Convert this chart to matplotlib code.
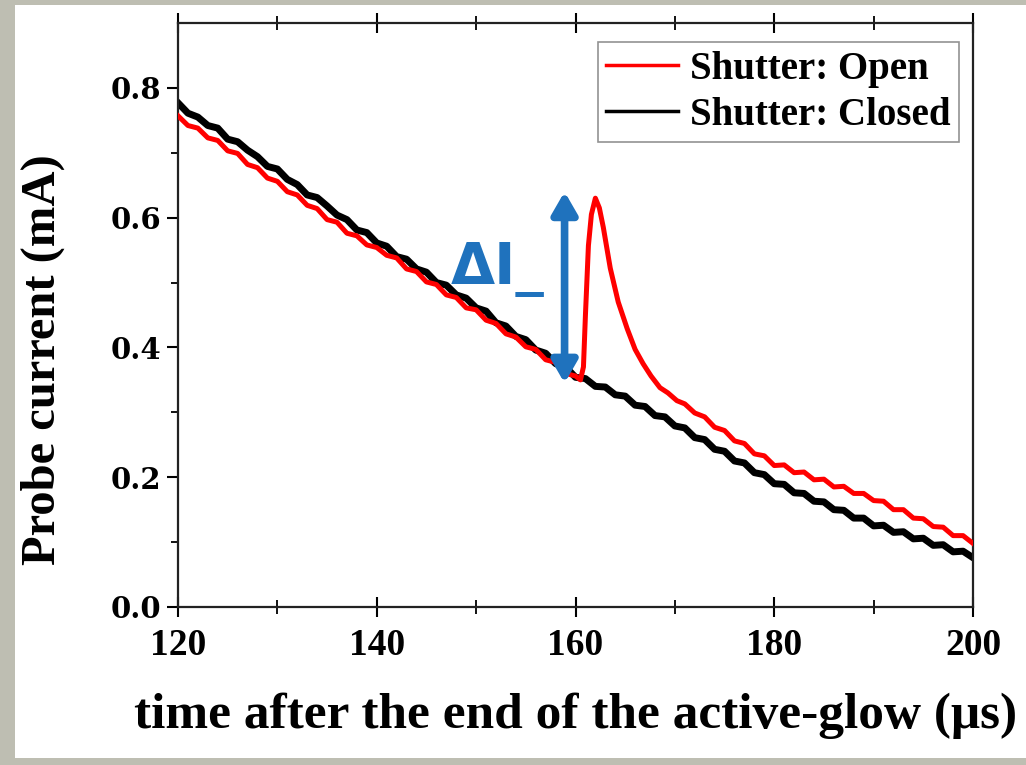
import matplotlib
matplotlib.use("Agg")
import matplotlib.pyplot as plt
from matplotlib.patches import Rectangle

# ---- data ----
time_closed = list(range(120, 201))
current_closed = [
    0.777, 0.761, 0.755, 0.742, 0.738, 0.721, 0.717, 0.704, 0.694, 0.679,
    0.675, 0.659, 0.651, 0.635, 0.631, 0.618, 0.604, 0.597, 0.581, 0.577,
    0.561, 0.556, 0.540, 0.536, 0.521, 0.516, 0.500, 0.496, 0.481, 0.476,
    0.461, 0.456, 0.438, 0.433, 0.417, 0.412, 0.396, 0.391, 0.375, 0.370,
    0.354, 0.352, 0.340, 0.339, 0.327, 0.325, 0.311, 0.309, 0.295, 0.293,
    0.279, 0.276, 0.261, 0.258, 0.243, 0.240, 0.225, 0.222, 0.207, 0.204,
    0.190, 0.189, 0.176, 0.175, 0.163, 0.162, 0.150, 0.149, 0.137, 0.137,
    0.125, 0.126, 0.115, 0.116, 0.105, 0.106, 0.095, 0.096, 0.085, 0.086,
    0.076,
]

time_open = [
    120, 121, 122, 123, 124, 125, 126, 127, 128, 129,
    130, 131, 132, 133, 134, 135, 136, 137, 138, 139,
    140, 141, 142, 143, 144, 145, 146, 147, 148, 149,
    150, 151, 152, 153, 154, 155, 156, 157, 158, 159,
    160, 160.5, 160.8, 161.0, 161.3, 161.6, 162.0, 162.4, 162.8, 163.5,
    164.3, 165.2, 166.0, 166.8, 167.6, 168.5, 169.3, 170.2, 171, 172,
    173, 174, 175, 176, 177, 178, 179, 180, 181, 182,
    183, 184, 185, 186, 187, 188, 189, 190, 191, 192,
    193, 194, 195, 196, 197, 198, 199, 200,
]
current_open = [
    0.757, 0.742, 0.738, 0.723, 0.719, 0.703, 0.699, 0.682, 0.677, 0.661,
    0.656, 0.640, 0.635, 0.619, 0.614, 0.597, 0.593, 0.576, 0.572, 0.558,
    0.554, 0.542, 0.538, 0.521, 0.517, 0.501, 0.497, 0.481, 0.477, 0.461,
    0.458, 0.442, 0.437, 0.421, 0.416, 0.401, 0.397, 0.381, 0.377, 0.360,
    0.356, 0.350, 0.370, 0.450, 0.557, 0.605, 0.630, 0.615, 0.585, 0.522,
    0.470, 0.429, 0.397, 0.375, 0.356, 0.338, 0.330, 0.318, 0.313, 0.299,
    0.293, 0.277, 0.272, 0.256, 0.252, 0.236, 0.233, 0.218, 0.219, 0.207,
    0.208, 0.196, 0.197, 0.185, 0.186, 0.175, 0.175, 0.164, 0.163, 0.150,
    0.150, 0.137, 0.136, 0.124, 0.123, 0.110, 0.110, 0.098,
]

legend_labels = ["Shutter: Open", "Shutter: Closed"]
x_ticks = [120, 140, 160, 180, 200]
y_ticks = [0.0, 0.2, 0.4, 0.6, 0.8]
arrow_time = 158.9
arrow_low, arrow_high = 0.345, 0.640

# ---- figure ----
W, H = 1026, 765
fig = plt.figure(figsize=(W / 100, H / 100), dpi=100, facecolor="#bebeb2")
fig.patches.append(Rectangle((15 / W, 7 / H), 1 - 15 / W, (758 - 5) / H,
                             transform=fig.transFigure, facecolor="white",
                             edgecolor="none", zorder=-10))

ax = fig.add_axes([178 / W, (H - 607) / H, (973 - 178) / W, (607 - 23) / H])
ax.set_facecolor("white")

ax.plot(time_open, current_open, color="#ff0000", lw=3.6, label=legend_labels[0],
        solid_joinstyle="round", zorder=3)
ax.plot(time_closed, current_closed, color="black", lw=5.0, label=legend_labels[1],
        solid_joinstyle="round", zorder=2)

ax.set_xlim(120, 200)
ax.set_ylim(0, 0.9)

ax.set_xticks(x_ticks)
ax.set_xticks(range(130, 200, 20), minor=True)
ax.set_yticks(y_ticks)
ax.set_yticks([0.1, 0.3, 0.5, 0.7], minor=True)
ax.set_yticklabels([f"{v:.1f}" for v in y_ticks],
                   fontfamily="DejaVu Serif", fontweight="bold", fontsize=21)
ax.set_xticklabels([str(v) for v in x_ticks],
                   fontfamily="Liberation Serif", fontweight="bold", fontsize=27)

for s in ax.spines.values():
    s.set_linewidth(1.6)
    s.set_color("#222222")

ax.tick_params(axis="y", which="major", direction="out", length=8, width=1.5,
               left=True, right=False, pad=4)
ax.tick_params(axis="y", which="minor", direction="out", length=5, width=1.3,
               left=True, right=False)
ax.tick_params(axis="x", which="major", direction="inout", length=14, width=1.5,
               bottom=True, top=True, pad=8)
ax.tick_params(axis="x", which="minor", direction="inout", length=10, width=1.3,
               bottom=True, top=True)
ax.tick_params(axis="x", labeltop=False)

ax.set_xlabel("time after the end of the active-glow (μs)",
              fontfamily="Liberation Serif", fontweight="bold", fontsize=37,
              va="center")
ax.xaxis.set_label_coords(0.5, (607 - 716) / 584)
ax.set_ylabel("Probe current (mA)", fontfamily="Liberation Serif",
              fontweight="bold", fontsize=35, va="center")
ax.yaxis.set_label_coords((43 - 178) / 795, (607 - 360) / 584)

leg = ax.legend(loc="upper right", bbox_to_anchor=(0.992, 0.98),
                prop={"family": "Liberation Serif", "weight": "bold", "size": 28},
                frameon=True, fancybox=False, handlelength=1.85, handletextpad=0.3,
                borderpad=0.22, labelspacing=0.22, borderaxespad=0.2)
leg.get_frame().set_edgecolor("#777777")
leg.get_frame().set_linewidth(1.2)
for l in leg.get_lines():
    l.set_linewidth(2.5)

blue = "#1f72bd"
ax.annotate("", xy=(arrow_time, arrow_high), xytext=(arrow_time, arrow_low),
            arrowprops=dict(arrowstyle="<|-|>,head_length=1.3,head_width=0.75",
                            color=blue, lw=5.5, shrinkA=0, shrinkB=0), zorder=5)
ax.text(156.9, 0.498, "ΔI_", color=blue, fontfamily="DejaVu Sans",
        fontweight="bold", fontsize=41, ha="right", va="baseline", zorder=5)

fig.savefig("out.png", dpi=100, facecolor=fig.get_facecolor())
